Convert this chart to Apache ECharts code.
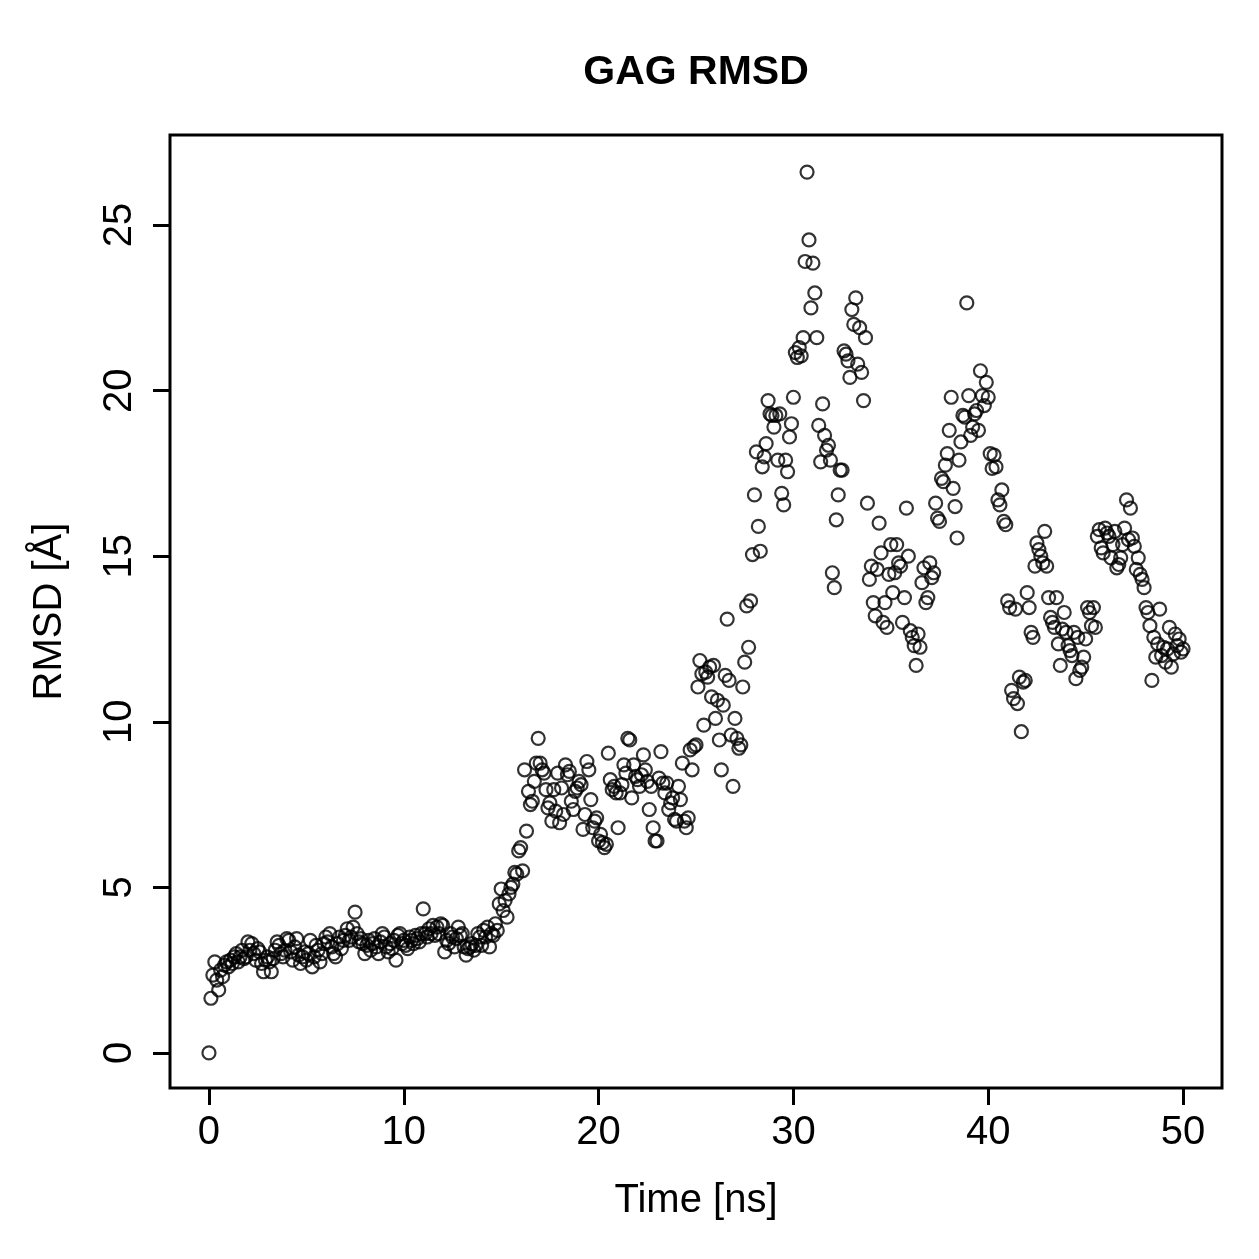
<!DOCTYPE html>
<html>
<head>
<meta charset="utf-8">
<script src="https://cdn.jsdelivr.net/npm/echarts@6/dist/echarts.min.js"></script>
<style>
  html, body { margin: 0; padding: 0; background: #fff; }
  #chart { width: 1259px; height: 1259px; }
</style>
</head>
<body>
<div id="chart"></div>
<script>
// sampled every 0.1 ns, 0 .. 50 ns
const timeStep = 0.1
const rmsd = [
  0, 1.65, 2.35, 2.75, 2.2, 1.9, 2.5, 2.3, 2.65, 2.75,
  2.6, 2.8, 2.7, 2.9, 3.0, 2.75, 2.9, 3.1, 2.85, 2.9,
  3.35, 3.1, 3.3, 3.0, 2.8, 3.15, 3.05, 2.7, 2.45, 2.8,
  2.9, 2.75, 2.45, 2.85, 3.1, 3.35, 3.25, 3.0, 2.9, 3.1,
  3.45, 3.4, 3.05, 2.8, 3.2, 3.45, 2.95, 2.7, 2.9, 3.05,
  2.8, 3.0, 3.4, 2.6, 2.9, 3.25, 3.1, 2.75, 3.0, 3.3,
  3.5, 3.35, 3.6, 3.2, 3.0, 2.9, 3.3, 3.5, 3.15, 3.4,
  3.55, 3.75, 3.4, 3.5, 3.8, 4.25, 3.6, 3.35, 3.45, 3.3,
  3.0, 3.25, 3.4, 3.1, 3.3, 3.45, 3.2, 3.0, 3.35, 3.6,
  3.5, 3.2, 3.05, 3.3, 3.15, 3.4, 2.8, 3.55, 3.6, 3.3,
  3.4, 3.25, 3.15, 3.5, 3.4, 3.3, 3.55, 3.45, 3.35, 3.6,
  4.35, 3.6, 3.5, 3.75, 3.6, 3.85, 3.55, 3.8, 3.6, 3.9,
  3.85, 3.05, 3.4, 3.3, 3.6, 3.5, 3.2, 3.45, 3.8, 3.55,
  3.6, 3.2, 2.95, 3.15, 3.2, 3.3, 3.1, 3.25, 3.6, 3.5,
  3.25, 3.7, 3.5, 3.8, 3.2, 3.6, 3.55, 3.9, 3.7, 4.5,
  4.95, 4.3, 4.6, 4.1, 4.8, 5.0, 5.1, 5.45, 5.4, 6.1,
  6.2, 5.5, 8.55, 6.7, 7.9, 7.5, 7.6, 8.2, 8.75, 9.5,
  8.75, 8.55, 8.45, 7.95, 7.4, 7.55, 7.0, 7.95, 7.3, 8.45,
  6.95, 8.0, 7.2, 8.7, 8.4, 8.5, 7.6, 7.35, 7.9, 8.0,
  8.2, 8.1, 6.75, 7.2, 8.8, 8.55, 7.65, 6.8, 7.0, 7.1,
  6.4, 6.6, 6.35, 6.2, 6.3, 9.05, 8.25, 7.95, 8.05, 7.85,
  6.8, 7.85, 8.1, 8.7, 8.45, 9.5, 9.45, 7.7, 8.7, 8.35,
  8.25, 8.05, 8.4, 9.0, 8.55, 8.2, 7.35, 8.05, 6.8, 6.4,
  6.4, 8.3, 9.1, 8.15, 7.85, 8.15, 7.35, 7.55, 7.7, 7.05,
  7.0, 8.05, 7.65, 8.75, 7.0, 6.8, 7.1, 9.15, 8.55, 9.25,
  9.3, 11.05, 11.85, 11.45, 9.9, 11.5, 11.35, 11.65, 10.75, 11.7,
  10.1, 10.65, 9.45, 8.55, 10.5, 11.4, 13.1, 11.25, 9.6, 8.05,
  10.1, 9.5, 9.2, 9.3, 11.05, 11.8, 13.5, 12.25, 13.65, 15.05,
  16.85, 18.15, 15.9, 15.15, 17.7, 18.0, 18.4, 19.7, 19.3, 19.25,
  18.9, 19.25, 17.9, 19.3, 16.9, 16.55, 17.9, 17.55, 18.6, 19.0,
  19.8, 21.15, 21.0, 21.3, 21.05, 21.6, 23.9, 26.6, 24.55, 22.5,
  23.85, 22.95, 21.6, 18.95, 17.85, 19.6, 18.65, 18.2, 18.35, 17.9,
  14.5, 14.05, 16.1, 16.85, 17.6, 17.6, 21.2, 21.1, 20.9, 20.4,
  22.45, 22.0, 22.8, 20.8, 21.9, 20.55, 19.7, 21.6, 16.6, 14.3,
  14.7, 13.6, 13.2, 14.6, 16.0, 15.1, 13.0, 13.6, 12.85, 14.45,
  15.35, 13.9, 14.5, 15.35, 14.8, 14.7, 13.0, 13.75, 16.45, 15.0,
  12.75, 12.55, 12.3, 11.7, 12.65, 12.25, 14.2, 14.65, 13.6, 13.75,
  14.8, 14.35, 14.5, 16.6, 16.15, 16.05, 17.35, 17.25, 17.75, 18.1,
  18.8, 19.8, 17.05, 16.5, 15.55, 17.9, 18.45, 19.25, 19.2, 22.65,
  19.85, 18.65, 18.9, 19.3, 19.4, 18.8, 20.6, 19.85, 19.55, 20.25,
  19.8, 18.1, 17.65, 18.05, 17.7, 16.7, 16.55, 17.0, 16.05, 15.95,
  13.65, 13.45, 10.95, 10.7, 13.4, 10.55, 11.35, 9.7, 11.2, 11.25,
  13.9, 13.45, 12.7, 12.55, 14.7, 15.4, 15.2, 15.0, 14.8, 15.75,
  14.7, 13.75, 13.15, 13.0, 12.85, 13.75, 12.35, 11.7, 12.8, 13.3,
  12.7, 12.3, 12.15, 12.0, 12.7, 11.3, 12.55, 11.55, 11.65, 11.95,
  12.5, 13.45, 13.3, 12.9, 13.45, 12.85, 15.6, 15.8, 15.25, 15.1,
  15.85, 15.7, 15.6, 14.95, 15.35, 15.75, 14.65, 14.75, 14.95, 15.35,
  15.85, 16.7, 15.5, 16.45, 15.55, 15.3, 14.6, 14.95, 14.45, 14.3,
  14.05, 13.45, 13.3, 12.9, 11.25, 12.55, 11.95, 12.35, 13.4, 12.0,
  12.25, 11.8, 12.2, 12.85, 11.65, 12.05, 12.65, 12.3, 12.5, 12.1,
  12.2
]
const xTicks = [0, 10, 20, 30, 40, 50]
const yTicks = [0, 5, 10, 15, 20, 25]

const font = 'Liberation Sans'
const points = rmsd.map((v, i) => [+(i * timeStep).toFixed(1), v])

const chart = echarts.init(document.getElementById('chart'))
chart.setOption({
  animation: false,
  backgroundColor: '#fff',
  title: {
    text: 'GAG RMSD',
    left: 696,
    top: 52,
    textAlign: 'center',
    padding: 0,
    textStyle: {fontFamily: font, fontSize: 41, fontWeight: 'bold', color: '#000'}
  },
  grid: {
    left: 170,
    right: 37,
    top: 135,
    bottom: 171,
    show: true,
    borderColor: '#000',
    borderWidth: 3,
    backgroundColor: 'transparent'
  },
  xAxis: {
    type: 'value',
    min: -2,
    max: 52,
    name: 'Time [ns]',
    nameLocation: 'middle',
    nameGap: 93,
    nameTextStyle: {fontFamily: font, fontSize: 40, color: '#000'},
    splitLine: {show: false},
    axisLine: {show: false, onZero: false},
    axisTick: {show: true, length: 17, customValues: xTicks, lineStyle: {color: '#000', width: 3}},
    axisLabel: {customValues: xTicks, margin: 25, fontFamily: font, fontSize: 40, color: '#000'}
  },
  yAxis: {
    type: 'value',
    min: -1.06,
    max: 27.72,
    name: 'RMSD [Å]',
    nameLocation: 'middle',
    nameGap: 100,
    nameRotate: 90,
    nameTextStyle: {fontFamily: font, fontSize: 40, color: '#000'},
    splitLine: {show: false},
    axisLine: {show: false, onZero: false},
    axisTick: {show: true, length: 17, customValues: yTicks, lineStyle: {color: '#000', width: 3}},
    axisLabel: {customValues: yTicks, rotate: 90, margin: 30, fontFamily: font, fontSize: 40, color: '#000'}
  },
  series: [{
    type: 'scatter',
    data: points,
    symbol: 'circle',
    symbolSize: 13,
    silent: true,
    itemStyle: {color: 'transparent', borderColor: '#000', borderWidth: 2.2}
  }]
})
</script>
</body>
</html>
